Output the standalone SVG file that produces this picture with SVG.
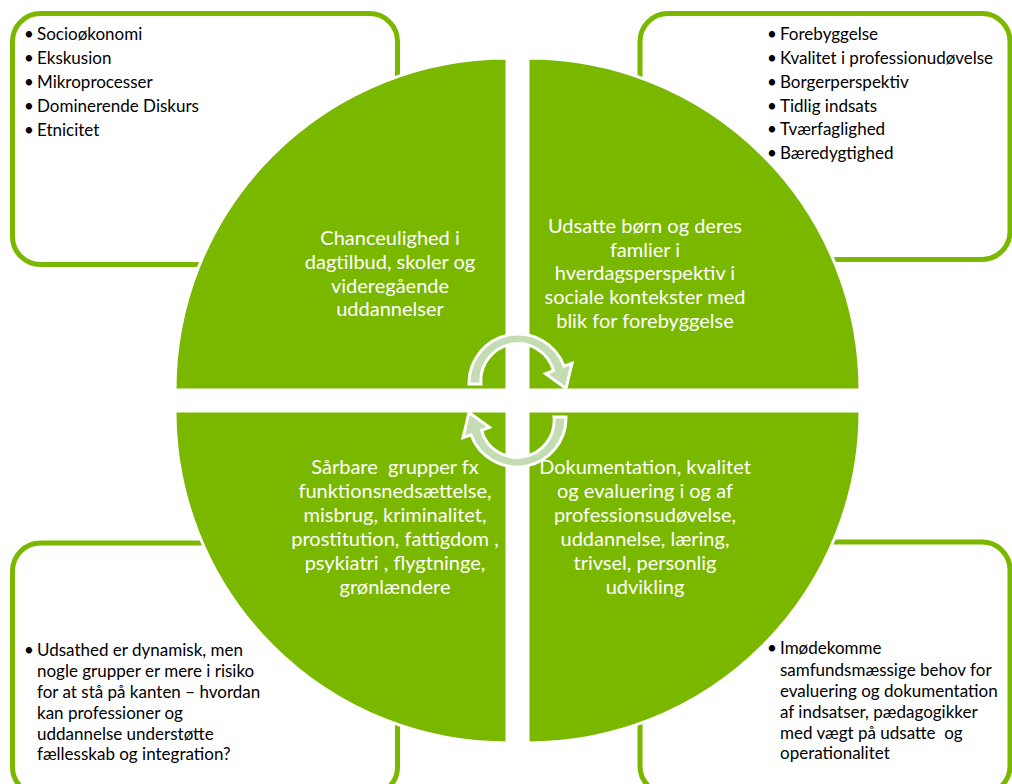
<svg xmlns="http://www.w3.org/2000/svg" width="1012" height="784" viewBox="0 0 1012 784">
<style>
.box{fill:#fff;stroke:#7ab800;stroke-width:5}
.q{fill:#7ab800;stroke:#fff;stroke-width:3}
.arr{fill:#c3dcb3;stroke:#fff;stroke-width:3;stroke-linejoin:miter}
.qt{font-family:Lato,"Liberation Sans",sans-serif;font-size:20px;fill:#fff;text-anchor:middle}
.bt{font-family:Lato,"Liberation Sans",sans-serif;font-size:17px;fill:#000}
.pre{white-space:pre}
</style>
<rect width="1012" height="784" fill="#fff"/>
<g id="box-tl"><rect class="box" x="12.5" y="13.5" width="385" height="251" rx="28"/>
<g class="bt"><text x="24" y="40">•</text><text x="37" y="40">Socioøkonomi</text><text x="24" y="64">•</text><text x="37" y="64">Ekskusion</text><text x="24" y="88">•</text><text x="37" y="88">Mikroprocesser</text><text x="24" y="112">•</text><text x="37" y="112">Dominerende Diskurs</text><text x="24" y="136">•</text><text x="37" y="136">Etnicitet</text></g></g>
<g id="box-tr"><rect class="box" x="640" y="13.5" width="370" height="246" rx="28"/>
<g class="bt"><text x="767" y="40">•</text><text x="780" y="40">Forebyggelse</text><text x="767" y="64">•</text><text x="780" y="64">Kvalitet i professionudøvelse</text><text x="767" y="88">•</text><text x="780" y="88">Borgerperspektiv</text><text x="767" y="112">•</text><text x="780" y="112">Tidlig indsats</text><text x="767" y="135">•</text><text x="780" y="135">Tværfaglighed</text><text x="767" y="159">•</text><text x="780" y="159">Bæredygtighed</text></g></g>
<g id="box-bl"><rect class="box" x="12.5" y="543" width="385" height="252" rx="28"/>
<g class="bt"><text x="24" y="656">•</text><text x="37" y="656">Udsathed er dynamisk, men</text><text x="37" y="677">nogle grupper er mere i risiko</text><text x="37" y="698">for at stå på kanten – hvordan</text><text x="37" y="719">kan professioner og</text><text x="37" y="740">uddannelse understøtte</text><text x="37" y="760">fællesskab og integration?</text></g></g>
<g id="box-br"><rect class="box" x="640" y="542" width="370" height="252" rx="28"/>
<g class="bt"><text x="767" y="654">•</text><text x="780" y="654">Imødekomme</text><text x="780" y="676">samfundsmæssige behov for</text><text x="780" y="697">evaluering og dokumentation</text><text x="780" y="718">af indsatser, pædagogikker</text><text x="780" y="739" class="pre">med vægt på udsatte  og</text><text x="780" y="759">operationalitet</text></g></g>
<g id="q-tl"><path class="q" d="M507,390 L175,390 A332,332 0 0 1 507,58 Z"/>
<g class="qt"><text x="390" y="245">Chanceulighed i</text><text x="390" y="269">dagtilbud, skoler og</text><text x="390" y="293">videregående</text><text x="390" y="316">uddannelser</text></g></g>
<g id="q-tr"><path class="q" d="M528,390 L528,58 A332,332 0 0 1 860,390 Z"/>
<g class="qt"><text x="645" y="233">Udsatte børn og deres</text><text x="645" y="257">famlier i</text><text x="645" y="280">hverdagsperspektiv i</text><text x="645" y="304">sociale kontekster med</text><text x="645" y="328">blik for forebyggelse</text></g></g>
<g id="q-bl"><path class="q" d="M507,411 L507,743 A332,332 0 0 1 175,411 Z"/>
<g class="qt"><text x="395" y="474" class="pre">Sårbare  grupper fx</text><text x="395" y="498">funktionsnedsættelse,</text><text x="395" y="522">misbrug, kriminalitet,</text><text x="395" y="546">prostitution, fattigdom ,</text><text x="395" y="570">psykiatri , flygtninge,</text><text x="395" y="594">grønlændere</text></g></g>
<g id="q-br"><path class="q" d="M528,411 L860,411 A332,332 0 0 1 528,743 Z"/>
<g class="qt"><text x="645" y="474">Dokumentation, kvalitet</text><text x="645" y="498">og evaluering i og af</text><text x="645" y="522">professionsudøvelse,</text><text x="645" y="546">uddannelse, læring,</text><text x="645" y="570">trivsel, personlig</text><text x="645" y="594">udvikling</text></g></g>
<g id="connectors">
<path id="arrow-top" class="arr" d="M469,384 A49,49 0 0 1 564,366.2 L572,363.4 L566,388.4 L545.5,373.6 L553.5,370.7 A37,37 0 0 0 481,384 Z"/>
<use href="#arrow-top" transform="rotate(180 517.5 400.5)"/>
</g>
</svg>
